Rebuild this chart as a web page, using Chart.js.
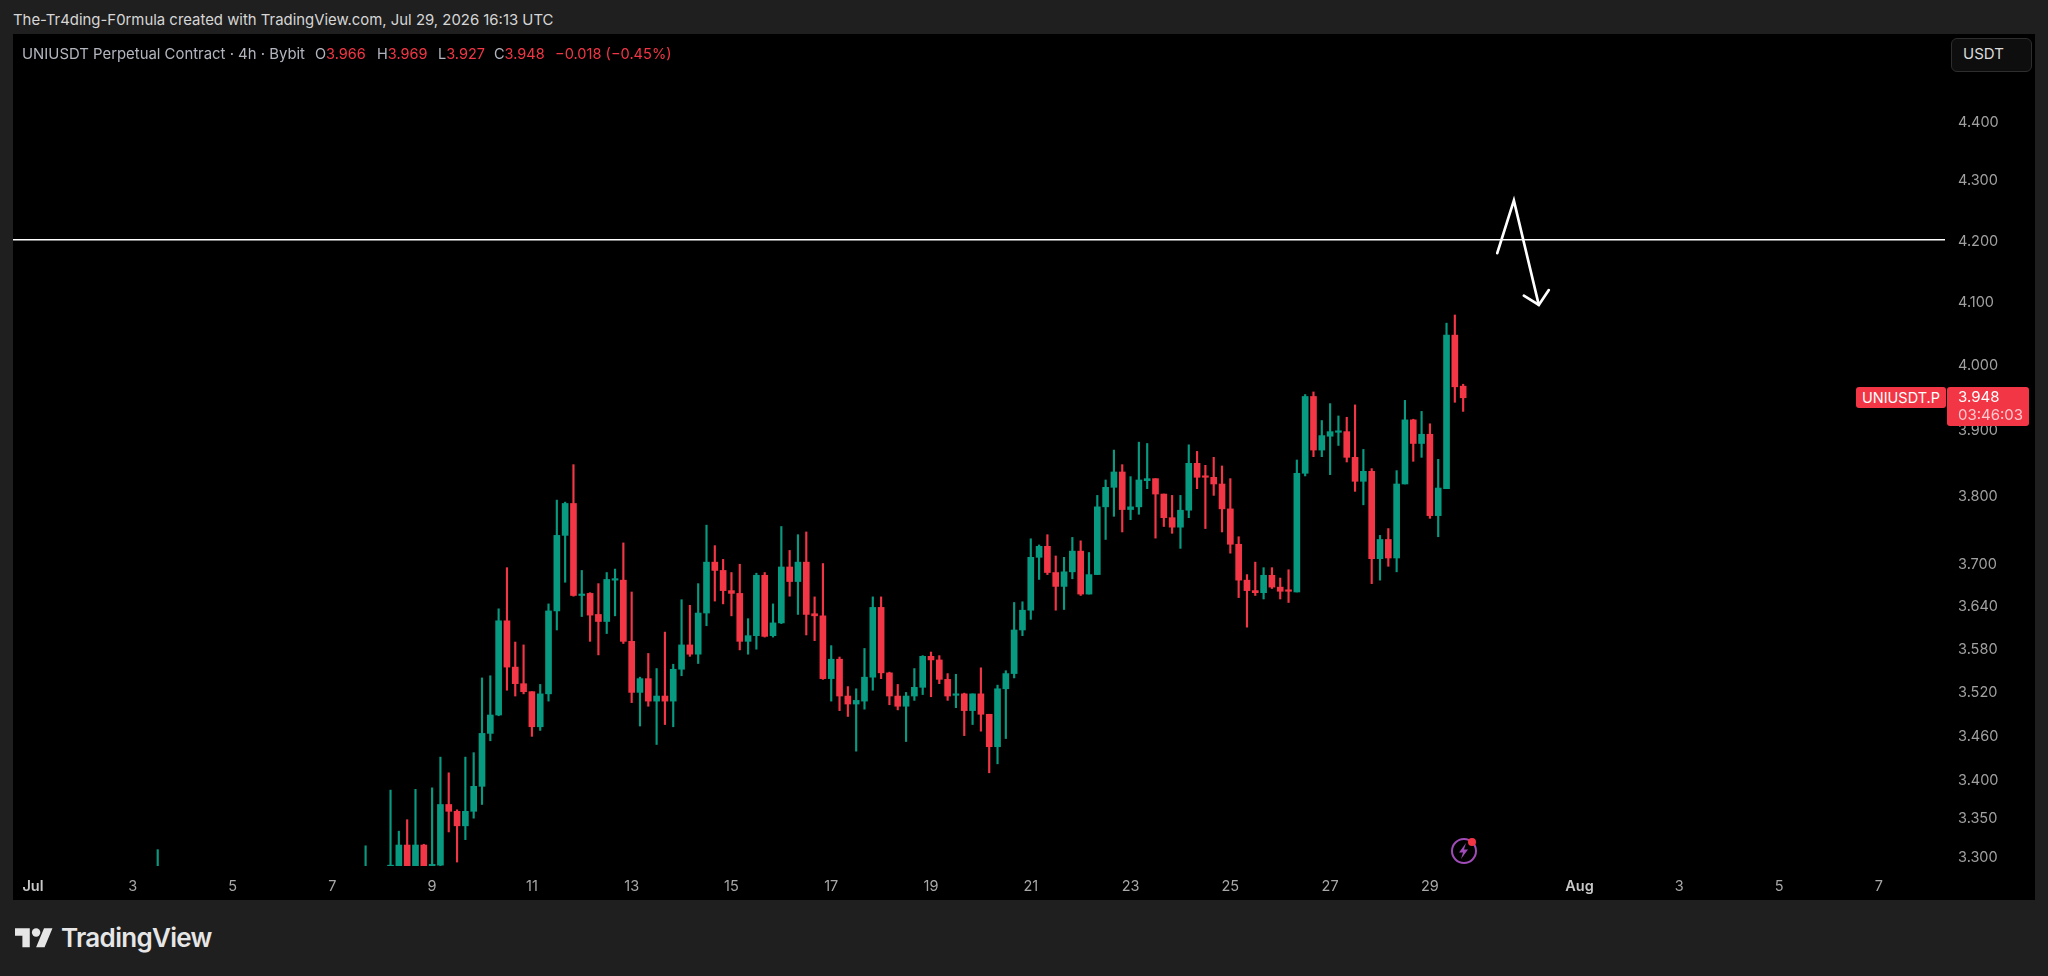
<!DOCTYPE html>
<html><head><meta charset="utf-8">
<script src="https://cdn.jsdelivr.net/npm/chart.js@4"></script>
<style>
html,body{margin:0;padding:0;width:2048px;height:976px;background:#1f1f1f;overflow:hidden;font-family:Inter,Roboto,sans-serif;}
#panel{position:absolute;left:13px;top:34px;width:2022px;height:866px;background:#000;}
canvas{position:absolute;left:13px;top:34px;}
.t{position:absolute;white-space:nowrap;font-size:15px;line-height:18px;}
.red{color:#F23645}.gr{color:#b2b5be}
.tag{position:absolute;background:#F23645;color:#fff;border-radius:3px;font-size:15px;}
</style></head><body>
<div id="panel"></div>
<canvas id="c" width="2022" height="866"></canvas>
<div class="t" style="left:13px;top:11px;color:#d6d6d6;font-size:14.9px">The-Tr4ding-F0rmula created with TradingView.com, Jul 29, 2026 16:13 UTC</div>
<div class="t gr" style="left:22px;top:45px;font-size:14.9px">UNIUSDT Perpetual Contract · 4h · Bybit</div>
<div class="t gr" style="left:315px;top:45px;font-size:14.5px">O<span class="red">3.966</span></div>
<div class="t gr" style="left:377px;top:45px;font-size:14.5px">H<span class="red">3.969</span></div>
<div class="t gr" style="left:438px;top:45px;font-size:14.5px">L<span class="red">3.927</span></div>
<div class="t gr" style="left:494px;top:45px;font-size:14.5px">C<span class="red">3.948</span></div>
<div class="t red" style="left:555px;top:45px;font-size:14.6px">−0.018 (−0.45%)</div>
<div style="position:absolute;left:1951px;top:38px;width:79px;height:32px;border:1px solid #2e2e2e;border-radius:6px;background:#0e0e0e"></div>
<div class="t" style="left:1963px;top:45px;color:#dcdcdc">USDT</div>
<div class="tag" style="left:1856px;top:387px;width:90px;height:21px;line-height:21px;text-align:center;font-size:14.5px">UNIUSDT.P</div>
<div class="tag" style="left:1947px;top:387px;width:82px;height:39px;"></div>
<div class="t" style="left:1958px;top:388px;color:#fff">3.948</div>
<div class="t" style="left:1958px;top:406px;color:#ffc9cf">03:46:03</div>
<svg style="position:absolute;left:15px;top:924px" width="38" height="26" viewBox="0 0 36 24.6"><path fill="#e6e6e6" d="M14 22H7V11H0V4h14v18zM28 22h-8l7.5-18h8L28 22z"/><circle fill="#e6e6e6" cx="20" cy="8" r="4"/></svg>
<div style="position:absolute;left:61px;top:921px;font-size:26px;line-height:34px;font-weight:600;color:#e6e6e6;letter-spacing:-0.7px">TradingView</div>
<svg style="position:absolute;left:1448px;top:835px" width="32" height="32" viewBox="0 0 32 32"><circle cx="16" cy="16" r="12" fill="none" stroke="#a04cb8" stroke-width="2"/><path fill="#a04cb8" d="M18 8l-7 9.5h4l-2 6.5 7-9.5h-4z"/><circle cx="24" cy="7" r="4" fill="#F23645"/></svg>
<script>
// 4h candle slots counted from Jul 1 00:00 UTC; only the slots visible in the picture
const slots = [15, 40];
for (let s = 43; s <= 172; s++) slots.push(s);

const opens = [3.26,3.26,
3.27,3.27,3.314,3.27,3.314,3.27,3.288,3.367,3.358,3.339,3.358,3.391,3.462,3.487,3.618,3.553,3.530,3.519,3.471,3.516,3.632,3.741,3.788,3.654,3.657,3.627,3.617,3.676,3.676,3.589,3.518,3.537,3.506,3.513,3.506,3.550,3.584,3.571,3.629,
3.702,3.690,3.661,3.657,3.589,3.597,3.683,3.597,3.615,3.695,3.674,3.702,3.628,3.625,3.537,3.564,3.513,3.502,3.506,3.539,3.637,3.545,3.513,3.499,3.513,3.525,3.568,3.563,3.536,3.514,3.516,3.493,3.516,3.488,3.444,3.523,3.544,3.605,3.633,
3.709,3.725,3.687,3.667,3.688,3.718,3.656,3.684,3.783,3.812,3.835,3.779,3.783,3.822,3.825,3.802,3.767,3.753,3.778,3.848,3.828,3.827,3.817,3.780,3.728,3.676,3.661,3.658,3.683,3.666,3.661,3.659,3.833,3.950,3.868,3.889,3.895,3.896,3.857,3.821,3.836,3.707,3.735,3.708,3.817,3.914,3.878,3.892,3.770,3.810,4.046,3.966];
const highs = [3.308,3.313,
3.386,3.332,3.347,3.387,3.315,3.389,3.430,3.409,3.360,3.430,3.436,3.538,3.541,3.635,3.694,3.588,3.584,3.519,3.529,3.642,3.793,3.790,3.846,3.690,3.658,3.671,3.687,3.692,3.730,3.659,3.539,3.572,3.551,3.602,3.557,3.648,3.640,3.671,3.756,
3.726,3.706,3.687,3.699,3.621,3.686,3.687,3.642,3.754,3.719,3.742,3.746,3.652,3.700,3.583,3.567,3.526,3.523,3.579,3.652,3.652,3.546,3.529,3.518,3.551,3.569,3.574,3.569,3.544,3.543,3.517,3.516,3.552,3.488,3.528,3.548,3.644,3.645,3.736,
3.727,3.742,3.711,3.709,3.738,3.733,3.716,3.800,3.823,3.868,3.846,3.828,3.880,3.878,3.825,3.802,3.800,3.800,3.876,3.866,3.845,3.857,3.844,3.825,3.739,3.684,3.702,3.694,3.694,3.679,3.691,3.853,3.953,3.957,3.913,3.939,3.920,3.918,3.937,3.869,3.840,3.741,3.751,3.837,3.944,3.915,3.927,3.908,3.854,4.065,4.078,3.969];
const lows = [3.25,3.25,
3.26,3.26,3.26,3.26,3.26,3.26,3.287,3.331,3.292,3.321,3.349,3.367,3.452,3.486,3.521,3.513,3.516,3.458,3.466,3.506,3.605,3.673,3.653,3.624,3.589,3.570,3.600,3.625,3.586,3.504,3.472,3.499,3.447,3.474,3.471,3.541,3.568,3.558,3.611,
3.646,3.642,3.625,3.577,3.571,3.578,3.595,3.595,3.614,3.653,3.627,3.598,3.590,3.536,3.506,3.493,3.485,3.438,3.495,3.521,3.537,3.501,3.494,3.451,3.507,3.515,3.512,3.530,3.507,3.497,3.459,3.474,3.465,3.409,3.421,3.455,3.538,3.597,3.620,
3.677,3.684,3.633,3.634,3.678,3.654,3.656,3.684,3.735,3.769,3.746,3.764,3.772,3.810,3.737,3.754,3.744,3.722,3.767,3.810,3.751,3.800,3.746,3.715,3.651,3.609,3.654,3.649,3.664,3.649,3.644,3.659,3.829,3.858,3.858,3.831,3.875,3.850,3.806,3.786,3.671,3.676,3.696,3.688,3.817,3.851,3.857,3.766,3.739,3.810,3.941,3.927];
const closes = [3.27,3.27,
3.288,3.314,3.27,3.314,3.27,3.289,3.367,3.358,3.339,3.358,3.391,3.462,3.487,3.618,3.553,3.530,3.519,3.471,3.516,3.632,3.741,3.788,3.654,3.656,3.626,3.617,3.677,3.677,3.589,3.518,3.537,3.506,3.513,3.506,3.550,3.584,3.571,3.629,3.702,
3.690,3.661,3.657,3.589,3.597,3.683,3.596,3.615,3.695,3.674,3.702,3.627,3.625,3.537,3.564,3.513,3.502,3.507,3.539,3.637,3.545,3.513,3.499,3.513,3.525,3.568,3.563,3.536,3.513,3.516,3.493,3.516,3.488,3.444,3.523,3.544,3.605,3.633,3.709,
3.725,3.687,3.667,3.688,3.718,3.656,3.684,3.783,3.812,3.835,3.779,3.783,3.823,3.825,3.802,3.767,3.753,3.778,3.848,3.827,3.827,3.817,3.780,3.728,3.676,3.661,3.658,3.683,3.666,3.660,3.660,3.833,3.950,3.868,3.890,3.896,3.897,3.857,3.821,3.836,3.707,3.735,3.708,3.817,3.914,3.878,3.892,3.770,3.811,4.046,3.965,3.948];

const priceTicks = [4.4,4.3,4.2,4.1,4.0,3.9,3.8,3.7,3.64,3.58,3.52,3.46,3.4,3.35,3.3];
const timeTickSlots = [0,12,24,36,48,60,72,84,96,108,120,132,144,156,168,186,198,210,222];
const timeTickLabels = ['Jul','3','5','7','9','11','13','15','17','19','21','23','25','27','29','Aug','3','5','7'];
const levelPrice = 4.2;
const arrowPath = [[176.1,4.178],[178.1,4.265],[181.1,4.094]];
const arrowHead = [[179.3,4.109],[181.1,4.094],[182.3,4.118]];

const UP = '#089981', DOWN = '#F23645';
const xMin = -2.405, xMax = 229.95, yMin = 3.2869, yMax = 4.5521;
const colors = slots.map((s,i)=> closes[i] >= opens[i] ? UP : DOWN);
const toXY = a => a.map(p=>({x:p[0],y:p[1]}));
const lineDs = (data,w)=>({type:'line',data,borderColor:'#ffffff',borderWidth:w,pointRadius:0,tension:0,order:0,borderCapStyle:'round',borderJoinStyle:'miter'});
const isMonth = c => !!c.tick && (c.tick.value===0||c.tick.value===186);
const noPad = s => {s.paddingTop=0;s.paddingBottom=0;s.paddingLeft=0;s.paddingRight=0;};

new Chart(document.getElementById('c'),{
  type:'bar',
  data:{datasets:[
    {label:'body',order:1,grouped:false,barThickness:6,minBarLength:1.5,backgroundColor:colors,
     data:slots.map((s,i)=>({x:s,y:[opens[i],closes[i]]}))},
    {label:'wick',order:2,grouped:false,barThickness:1.5,backgroundColor:colors,
     data:slots.map((s,i)=>({x:s,y:[lows[i],highs[i]]}))},
    lineDs([{x:xMin,y:levelPrice},{x:xMax,y:levelPrice}],1.5),
    lineDs(toXY(arrowPath),2.7),
    lineDs(toXY(arrowHead),2.7)
  ]},
  options:{
    responsive:false,animation:false,devicePixelRatio:1,
    layout:{padding:0},
    plugins:{legend:{display:false},tooltip:{enabled:false},title:{display:false}},
    scales:{
      x:{type:'linear',min:xMin,max:xMax,offset:false,
        grid:{display:false},border:{display:false},
        afterBuildTicks:s=>{s.ticks=timeTickSlots.map(v=>({value:v}));},
        afterFit:s=>{s.height=34;noPad(s);},
        ticks:{autoSkip:false,maxRotation:0,minRotation:0,padding:4,
          color:c=>isMonth(c)?'#c8c8c8':'#a8a8a8',
          font:c=>({family:'Inter,Roboto,sans-serif',size:14.5,weight:isMonth(c)?'600':'400'}),
          callback:v=>{const i=timeTickSlots.indexOf(v);return i<0?'':timeTickLabels[i];}}},
      y:{type:'logarithmic',position:'right',min:yMin,max:yMax,
        grid:{display:false},border:{display:false},
        afterBuildTicks:s=>{s.ticks=priceTicks.map(v=>({value:v}));},
        afterFit:s=>{s.width=90;noPad(s);},
        ticks:{autoSkip:false,padding:5,labelOffset:1.5,color:'#a0a0a0',align:'center',crossAlign:'near',
          font:{family:'Inter,Roboto,sans-serif',size:14.5},
          callback:v=>Number(v).toFixed(3)}}
    }
  }
});
</script>
</body></html>
